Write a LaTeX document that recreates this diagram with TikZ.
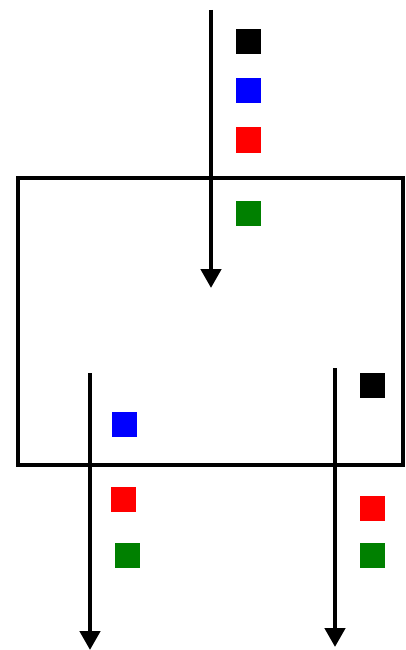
\documentclass[tikz,border=0pt]{standalone}
\usetikzlibrary{arrows.meta}
\definecolor{dgreen}{RGB}{0,128,0}
\tikzset{
  sq/.style={draw=none,fill=#1,minimum size=25pt,inner sep=0pt,outer sep=0pt},
  flow/.style={line width=4.5pt,-{Triangle[width=20pt,length=19pt]}},
  box/.style={draw,line width=4.8pt}
}
\begin{document}
\begin{tikzpicture}[x=1pt,y=-1pt]
\useasboundingbox (0,0) rectangle (405,650);
\draw[box] (18,178) rectangle (403,465);
% top arrow
\coordinate (t0) at (211,10);
\coordinate (t1) at (211,288);
\draw[flow] (t0) -- (t1);
\node[sq=black] (tk) at (248,42) {};
\node[sq=blue] (tb) at (248,91) {};
\node[sq=red] (tr) at (248,140) {};
\node[sq=dgreen] (tg) at (248,213) {};
% left arrow
\coordinate (l0) at (90,373);
\coordinate (l1) at (90,650);
\draw[flow] (l0) -- (l1);
\node[sq=blue] (lb) at (124,424) {};
\node[sq=red] (lr) at (123,499) {};
\node[sq=dgreen] (lg) at (127,555) {};
% right arrow
\coordinate (r0) at (335,368);
\coordinate (r1) at (335,647);
\draw[flow] (r0) -- (r1);
\node[sq=black] (rk) at (372,385) {};
\node[sq=red] (rr) at (372,508) {};
\node[sq=dgreen] (rg) at (372,555) {};
\end{tikzpicture}
\end{document}
